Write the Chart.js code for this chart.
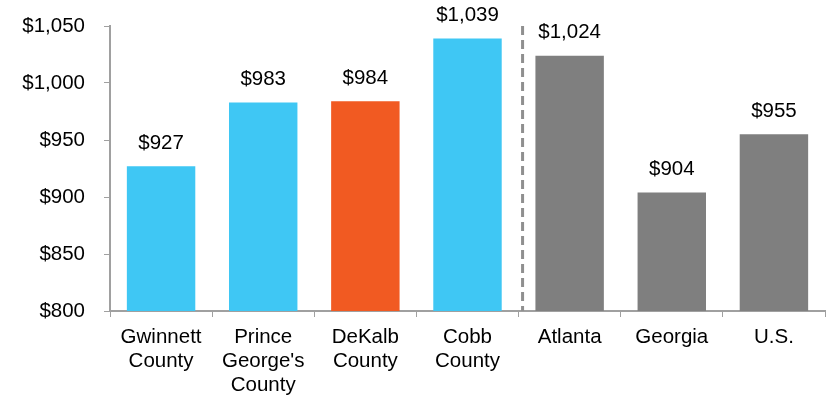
<!DOCTYPE html>
<html>
<head>
<meta charset="utf-8">
<script src="https://cdn.jsdelivr.net/npm/chart.js@4"></script>
<style>
  html, body { margin: 0; padding: 0; background: #fff; }
  #wrap { width: 827px; height: 395px; }
</style>
</head>
<body>
<div id="wrap"><canvas id="rentChart"></canvas></div>
<script>
// categories, values and colours
const categories = [
  ["Gwinnett", "County"],
  ["Prince", "George's", "County"],
  ["DeKalb", "County"],
  ["Cobb", "County"],
  "Atlanta",
  "Georgia",
  "U.S."
];
const rentValues = [927, 983, 984, 1039, 1024, 904, 955];
const barColors = ["#3FC7F4", "#3FC7F4", "#F15A22", "#3FC7F4", "#7F7F7F", "#7F7F7F", "#7F7F7F"];
const yMin = 800, yMax = 1050, yStep = 50;
const splitAfter = 3;   // dashed divider after Cobb County

const money = v => "$" + v.toLocaleString("en-US");
const FONT = "Liberation Sans, Arial, sans-serif";
const FONT_SIZE = 20.5;

// value labels over each bar
const valueLabels = {
  id: "valueLabels",
  afterDatasetsDraw(chart) {
    const ctx = chart.ctx;
    const meta = chart.getDatasetMeta(0);
    ctx.save();
    ctx.font = FONT_SIZE + "px " + FONT;
    ctx.fillStyle = "#000";
    ctx.textAlign = "center";
    ctx.textBaseline = "middle";
    meta.data.forEach((bar, i) => {
      ctx.fillText(money(rentValues[i]), bar.x, bar.y - 23);
    });
    ctx.restore();
  }
};

// dashed divider between counties and comparison areas
const divider = {
  id: "divider",
  afterDatasetsDraw(chart) {
    const x = chart.scales.x;
    const a = x.getPixelForValue(splitAfter), b = x.getPixelForValue(splitAfter + 1);
    const px = (a + b) / 2 + 4;
    const ctx = chart.ctx;
    ctx.save();
    ctx.strokeStyle = "#8F8F8F";
    ctx.lineWidth = 3;
    ctx.setLineDash([9, 5]);
    ctx.beginPath();
    ctx.moveTo(px, chart.chartArea.top);
    ctx.lineTo(px, chart.chartArea.bottom);
    ctx.stroke();
    ctx.restore();
  }
};

new Chart(document.getElementById("rentChart"), {
  type: "bar",
  data: {
    labels: categories,
    datasets: [{
      data: rentValues,
      backgroundColor: barColors,
      categoryPercentage: 0.67,
      barPercentage: 1.0,
      borderWidth: 0
    }]
  },
  options: {
    responsive: true,
    maintainAspectRatio: false,
    animation: false,
    devicePixelRatio: 1,
    layout: { padding: { top: 26, right: 2, left: 0, bottom: 0 } },
    plugins: {
      legend: { display: false },
      tooltip: { enabled: false }
    },
    scales: {
      x: {
        grid: { display: true, drawOnChartArea: false, drawTicks: true, tickLength: 6, color: "#A0A0A0", offset: true },
        border: { color: "#A0A0A0", width: 2 },
        ticks: { color: "#000", font: { family: FONT, size: FONT_SIZE, lineHeight: 1.15 }, padding: 9, maxRotation: 0, autoSkip: false },
        afterFit(scale) { scale.height = 84; }
      },
      y: {
        min: yMin,
        max: yMax,
        grid: { display: true, drawOnChartArea: false, drawTicks: true, tickLength: 6, color: "#A0A0A0" },
        border: { color: "#A0A0A0", width: 2 },
        ticks: {
          stepSize: yStep,
          color: "#000",
          font: { family: FONT, size: FONT_SIZE },
          padding: 19,
          callback: v => money(v)
        },
        afterFit(scale) {
          scale.width = 110;
          scale.paddingTop = 0;   // let layout.padding decide the top edge
        }
      }
    }
  },
  plugins: [valueLabels, divider]
});
</script>
</body>
</html>
